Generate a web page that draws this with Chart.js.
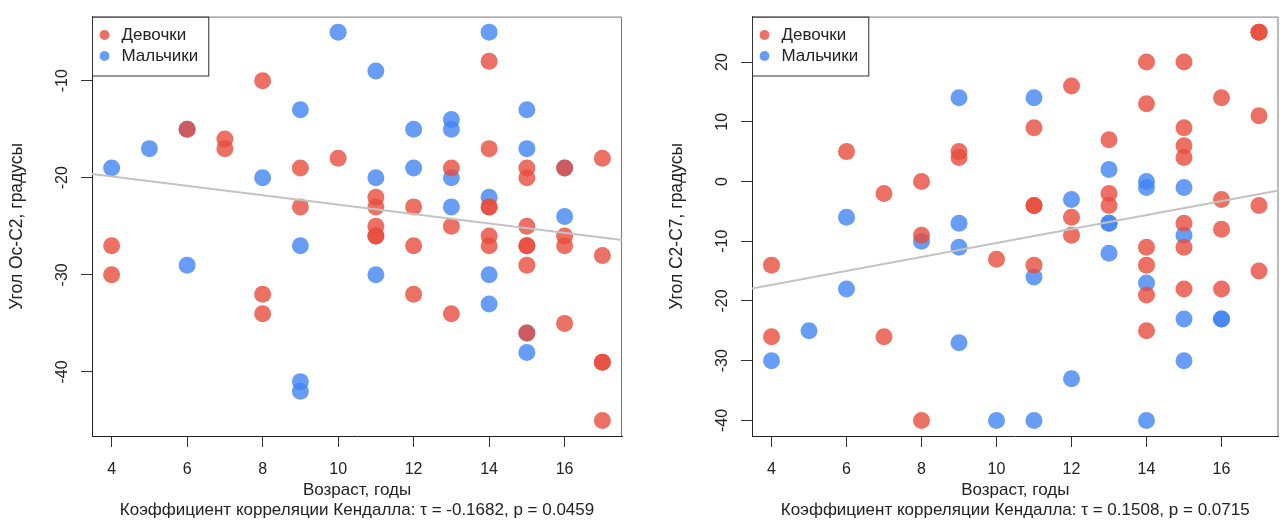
<html>
<head>
  <meta charset="utf-8" />
  <title>Углы и возраст</title>
  <script src="https://cdn.jsdelivr.net/npm/chart.js@4.4.1/dist/chart.umd.min.js"></script>
  <style>
    body { margin: 0; background: white; }
    .panel { position: absolute; top: 0; height: 521px; }
    #left { left: 0; width: 643px; }
    #right { left: 643px; width: 644px; }
  </style>
</head>
<body>
  <div class="panel" id="left"><canvas id="occChart"></canvas></div>
  <div class="panel" id="right"><canvas id="c27Chart"></canvas></div>

  <script>
    // ---- data ----
    // Угол Ос-С2
    const girlsAgeA = [4,4, 6, 7,7, 8,8,8, 9,9, 10, 11,11,11,11,11, 12,12,12, 13,13,13,
                       14,14,14,14,14,14, 15,15,15,15,15,15,15, 16,16,16,16, 17,17,17,17,17];
    const girlsValA = [-27,-30, -15, -16,-17, -10,-32,-34, -19,-23, -18, -22,-23,-25,-26,-26, -23,-27,-32, -19,-25,-34,
                       -8,-17,-23,-23,-26,-27, -19,-20,-25,-27,-27,-29,-36, -19,-26,-27,-35, -18,-28,-39,-39,-45];
    const boysAgeA = [4, 5, 6,6, 8, 9,9,9,9, 10, 11,11,11, 12,12, 13,13,13,13,
                      14,14,14,14, 15,15,15,15, 16,16];
    const boysValA = [-19, -17, -15,-29, -20, -13,-27,-41,-42, -5, -9,-20,-30, -15,-19, -14,-15,-20,-23,
                      -5,-22,-30,-33, -13,-17,-36,-38, -19,-24];
    const trendAgeA = [3.48, 17.52];
    const trendValA = [-19.6, -26.4];

    // Угол С2-С7
    const girlsAgeB = [4,4, 6, 7,7, 8,8,8, 9,9, 10, 11,11,11,11, 12,12,12, 13,13,13,
                       14,14,14,14,14,14, 15,15,15,15,15,15,15, 16,16,16,16, 17,17,17,17,17];
    const girlsValB = [-14,-26, 5, -2,-26, 0,-9,-40, 5,4, -13, 9,-4,-4,-14, 16,-6,-9, 7,-2,-4,
                       20,13,-11,-14,-19,-25, 20,9,6,4,-7,-11,-18, 14,-3,-8,-18, 25,25,11,-4,-15];
    const boysAgeB = [4, 5, 6,6, 8, 9,9,9,9, 10, 11,11,11, 12,12, 13,13,13,13,
                      14,14,14,14, 15,15,15,15, 16,16];
    const boysValB = [-30, -25, -6,-18, -10, 14,-7,-11,-27, -40, 14,-16,-40, -3,-33, 2,-7,-7,-12,
                      0,-1,-17,-40, -1,-9,-23,-30, -23,-23];
    const trendAgeB = [3.48, 17.52];
    const trendValB = [-17.9, -1.5];

    const xTicks = [4, 6, 8, 10, 12, 14, 16];
    const yTicksA = [-40, -30, -20, -10];
    const yTicksB = [-40, -30, -20, -10, 0, 10, 20];

    const FONT = "'Liberation Sans', Arial, Helvetica, sans-serif";
    const RED = "rgba(231,76,60,0.8)";
    const BLUE = "rgba(66,133,244,0.8)";

    function pts(xs, ys) {
      return xs.map((x, i) => ({ x: x, y: ys[i] }));
    }

    // grey box top/right + legend frame
    const framePlugin = {
      id: "frame",
      beforeDatasetsDraw(chart) {
        const { ctx, chartArea: a } = chart;
        ctx.save();
        ctx.strokeStyle = "#777";
        ctx.lineWidth = 1;
        ctx.beginPath();
        ctx.moveTo(a.left, a.top + 0.5);
        ctx.lineTo(a.right - 0.5, a.top + 0.5);
        ctx.lineTo(a.right - 0.5, a.bottom);
        ctx.stroke();
        ctx.restore();
      },
      afterDraw(chart) {
        const { ctx, chartArea: a } = chart;
        const hb = chart.legend.legendHitBoxes;
        if (!hb || !hb.length) return;
        const right = Math.max(...hb.map(h => h.left + h.width)) + 10;
        const last = hb[hb.length - 1];
        const bottom = last.top + last.height + 11;
        ctx.save();
        ctx.strokeStyle = "#333";
        ctx.lineWidth = 1;
        ctx.strokeRect(a.left + 0.5, a.top + 0.5, right - a.left, bottom - a.top);
        ctx.restore();
      }
    };

    function makeChart(id, girls, boys, trend, yMin, yMax, yTicks, yTitle, xTitle2, padLeft, padRight) {
      return new Chart(document.getElementById(id), {
        type: "scatter",
        data: {
          datasets: [
            {
              type: "line",
              label: "trend",
              data: trend,
              borderColor: "#c3c3c3",
              borderWidth: 2,
              pointRadius: 0,
              fill: false,
              order: 0
            },
            {
              label: "Девочки",
              data: girls,
              backgroundColor: RED,
              borderWidth: 0,
              pointRadius: 8.5,
              order: 1
            },
            {
              label: "Мальчики",
              data: boys,
              backgroundColor: BLUE,
              borderWidth: 0,
              pointRadius: 8.5,
              order: 2
            }
          ]
        },
        options: {
          responsive: true,
          maintainAspectRatio: false,
          animation: false,
          events: [],
          layout: { padding: { top: 14, left: padLeft, right: padRight, bottom: 0 } },
          scales: {
            x: {
              type: "linear",
              position: "bottom",
              min: 3.48,
              max: 17.52,
              afterBuildTicks: s => { s.ticks = xTicks.map(v => ({ value: v })); },
              afterFit: s => { s.height = 85; },
              ticks: { font: { size: 16, family: FONT }, color: "#222", padding: 13, maxRotation: 0, autoSkip: false },
              grid: { drawOnChartArea: false, drawTicks: true, tickLength: 11, tickColor: "#333", color: "#333" },
              border: { display: true, color: "#222", width: 1 },
              title: {
                display: true,
                text: ["Возраст, годы", xTitle2],
                font: { size: 17, family: FONT, lineHeight: 1.2 },
                color: "#222",
                padding: { top: 0, bottom: 0 }
              }
            },
            y: {
              type: "linear",
              position: "left",
              min: yMin,
              max: yMax,
              afterBuildTicks: s => { s.ticks = yTicks.map(v => ({ value: v })); },
              afterFit: s => { s.width = 92; },
              ticks: { font: { size: 16, family: FONT }, color: "#222", padding: 7, minRotation: 90, maxRotation: 90, crossAlign: "center" },
              grid: { drawOnChartArea: false, drawTicks: true, tickLength: 11, tickColor: "#333", color: "#333" },
              border: { display: true, color: "#222", width: 1 },
              title: {
                display: true,
                text: yTitle,
                font: { size: 17.5, family: FONT },
                color: "#222",
                padding: { top: 7, bottom: 0 }
              }
            }
          },
          plugins: {
            tooltip: { enabled: false },
            legend: {
              position: "chartArea",
              align: "start",
              title: { display: true, text: "", padding: { top: 21.5, bottom: 0 }, font: { size: 1, lineHeight: 1 } },
              labels: {
                usePointStyle: true,
                pointStyle: "circle",
                boxWidth: 18,
                boxHeight: 7,
                padding: 4,
                color: "#222",
                font: { size: 17, family: FONT },
                filter: item => item.text !== "trend"
              }
            }
          }
        },
        plugins: [framePlugin]
      });
    }

    makeChart("occChart", pts(girlsAgeA, girlsValA), pts(boysAgeA, boysValA), pts(trendAgeA, trendValA),
      -46.6, -3.4, yTicksA, "Угол Ос-С2, градусы",
      "Коэффициент корреляции Кендалла: τ = -0.1682, p = 0.0459", 0, 21);

    makeChart("c27Chart", pts(girlsAgeB, girlsValB), pts(boysAgeB, boysValB), pts(trendAgeB, trendValB),
      -42.6, 27.6, yTicksB, "Угол С2-С7, градусы",
      "Коэффициент корреляции Кендалла: τ = 0.1508, p = 0.0715", 17, 7);
  </script>
</body>
</html>
